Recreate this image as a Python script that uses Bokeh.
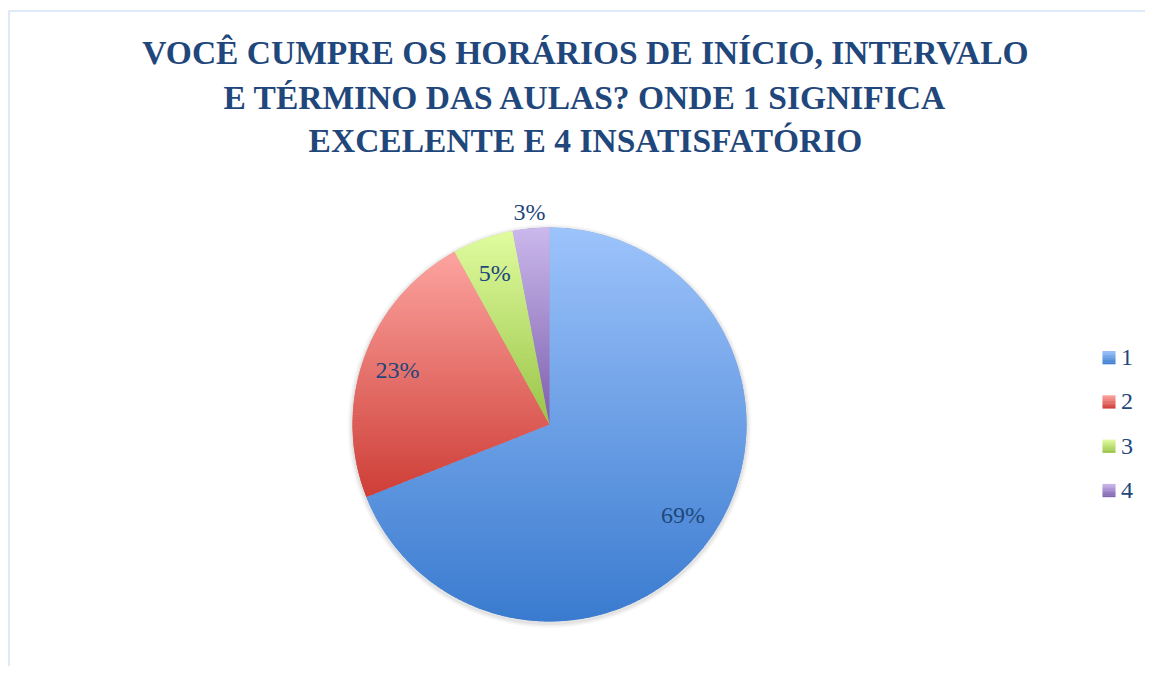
import numpy as np
from bokeh.plotting import figure
from bokeh.models import Range1d
from bokeh.embed import file_html
from bokeh.resources import INLINE
from bokeh.core.properties import value

# ---- data ----
title_lines = [
    "VOCÊ CUMPRE OS HORÁRIOS DE INÍCIO, INTERVALO",
    "E TÉRMINO DAS AULAS? ONDE 1 SIGNIFICA",
    "EXCELENTE E 4 INSATISFATÓRIO",
]
categories = ["1", "2", "3", "4"]
percent = [69, 23, 5, 3]
top_colors = ["#9DC3FB", "#FDA4A0", "#E0FC9F", "#CBB8EC"]
bottom_colors = ["#3A7BCF", "#CE3E37", "#9AC448", "#7C5FAD"]

# ---- layout ----
W, H = 1145, 666
p = figure(width=W, height=H, x_range=Range1d(0, W), y_range=Range1d(0, H),
           output_backend="svg", toolbar_location=None, min_border=0,
           x_axis_type=None, y_axis_type=None)
p.grid.visible = False
p.outline_line_color = None
p.background_fill_color = "white"
p.border_fill_color = "white"

TEXT_COLOR = "#1F477B"

# chart border (top & left visible)
p.line(x=[8.5, 8.5, W], y=[0, H - 10.5, H - 10.5], line_color="#D5E3F6", line_width=1.5)


def hex2rgb(h):
    h = h.lstrip("#")
    return np.array([int(h[i:i + 2], 16) for i in (0, 2, 4)], dtype=float)


def rgb2hex(c):
    c = np.clip(np.round(c), 0, 255).astype(int)
    return "#%02x%02x%02x" % tuple(c)


def clip_half(poly, y_lim, keep_above):
    out = []
    n = len(poly)
    for i in range(n):
        cur = poly[i]
        prv = poly[i - 1]
        cin = cur[1] >= y_lim if keep_above else cur[1] <= y_lim
        pin = prv[1] >= y_lim if keep_above else prv[1] <= y_lim
        if cin:
            if not pin:
                t = (y_lim - prv[1]) / (cur[1] - prv[1])
                out.append((prv[0] + t * (cur[0] - prv[0]), y_lim))
            out.append(cur)
        elif pin:
            t = (y_lim - prv[1]) / (cur[1] - prv[1])
            out.append((prv[0] + t * (cur[0] - prv[0]), y_lim))
    return out


cx, cy, R = 549.0, 242.0, 197.0

total = float(sum(percent))
frac = np.array(percent) / total
cum = np.concatenate([[0], np.cumsum(frac)])
starts = np.pi / 2 - 2 * np.pi * cum[:-1]
ends = np.pi / 2 - 2 * np.pi * cum[1:]

# soft shadow
for k, a in [(5, 0.025), (3.5, 0.035), (2, 0.05)]:
    p.circle(x=cx, y=cy - 1.5, radius=R + k, fill_color="black", fill_alpha=a, line_color=None)

mid_colors = [rgb2hex((hex2rgb(t) + hex2rgb(b)) / 2) for t, b in zip(top_colors, bottom_colors)]
p.wedge(x=[cx] * len(percent), y=[cy] * len(percent), radius=R,
        start_angle=list(starts), end_angle=list(ends), direction="clock",
        fill_color=mid_colors, line_color=None)

# gradient fill (vertical, per slice bounding box)
NB = 90
xs_all, ys_all, cols_all = [], [], []
for i in range(len(percent)):
    ang = np.linspace(starts[i], ends[i], max(8, int(abs(ends[i] - starts[i]) * 80)))
    poly = [(cx, cy)] + [(cx + R * np.cos(a), cy + R * np.sin(a)) for a in ang]
    ys = [q[1] for q in poly]
    ymin, ymax = min(ys), max(ys)
    edges = np.linspace(ymax, ymin, NB + 1)
    ct, cb = hex2rgb(top_colors[i]), hex2rgb(bottom_colors[i])
    for j in range(NB):
        y_hi = edges[j] + 0.4
        y_lo = edges[j + 1] - 0.4
        sub = clip_half(poly, y_lo, True)
        if len(sub) < 3:
            continue
        sub = clip_half(sub, y_hi, False)
        if len(sub) < 3:
            continue
        t = (j + 0.5) / NB
        xs_all.append([q[0] for q in sub])
        ys_all.append([q[1] for q in sub])
        cols_all.append(rgb2hex(ct + (cb - ct) * t))
p.patches(xs=xs_all, ys=ys_all, fill_color=cols_all, line_color=None)

# data labels
lx, ly, lt = [], [], []
for i in range(len(percent)):
    am = (starts[i] + ends[i]) / 2
    rf = 0.82 if frac[i] >= 0.04 else 1.085
    lx.append(cx + rf * R * np.cos(am))
    ly.append(cy + rf * R * np.sin(am))
    lt.append(f"{percent[i]}%")
p.text(x=lx, y=ly, text=lt, text_align="center", text_baseline="middle",
       text_font=value("Liberation Serif"), text_font_size="24px", text_color=TEXT_COLOR)

# legend
leg_x, leg_y0, leg_step, sq = 1108.5, 309.0, 44.3, 13.0
lqx0, lqx1, lqy0, lqy1, lqc = [], [], [], [], []
ltx, lty = [], []
for i, cat in enumerate(categories):
    yc = leg_y0 - i * leg_step
    ct, cb = hex2rgb(top_colors[i]), hex2rgb(bottom_colors[i])
    ns = 8
    for j in range(ns):
        t = (j + 0.5) / ns
        lqx0.append(leg_x - sq / 2)
        lqx1.append(leg_x + sq / 2)
        lqy1.append(yc + sq / 2 - j * sq / ns)
        lqy0.append(yc + sq / 2 - (j + 1) * sq / ns - 0.3)
        lqc.append(rgb2hex(ct + (cb - ct) * t))
    ltx.append(leg_x + 12)
    lty.append(yc)
p.quad(left=lqx0, right=lqx1, bottom=lqy0, top=lqy1, fill_color=lqc, line_color=None)
p.text(x=ltx, y=lty, text=categories, text_align="left", text_baseline="middle",
       text_font=value("Liberation Serif"), text_font_size="24px", text_color=TEXT_COLOR)

# title
title_y = [614, 569, 526]
p.text(x=[585] * 3, y=title_y, text=title_lines, text_align="center",
       text_baseline="alphabetic", text_font=value("Liberation Serif"),
       text_font_style="bold", text_font_size="33.5px", text_color=TEXT_COLOR)

open("out.html", "w").write(file_html(p, INLINE))
